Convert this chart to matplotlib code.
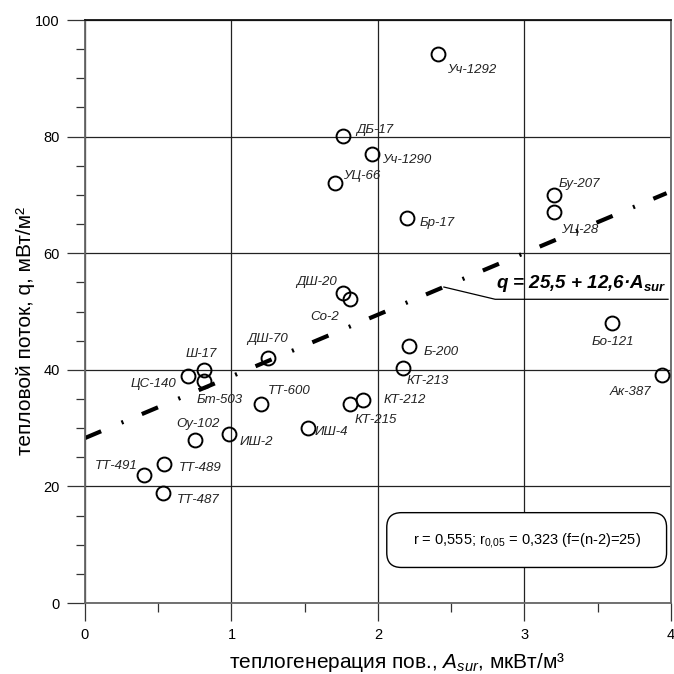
import matplotlib.pyplot as plt
from matplotlib.patches import FancyBboxPatch
import numpy as np

plt.rcParams['font.family'] = ['Liberation Sans', 'DejaVu Sans']
plt.rcParams['mathtext.fontset'] = 'custom'
plt.rcParams['mathtext.rm'] = 'Liberation Sans'
plt.rcParams['mathtext.it'] = 'Liberation Sans:italic'
plt.rcParams['mathtext.bf'] = 'Liberation Sans:bold:italic'

# boreholes: name, A_sur (мкВт/м3), q (мВт/м2)
names = ['Уч-1292', 'ДБ-17', 'Уч-1290', 'УЦ-66', 'Бр-17', 'Бу-207', 'УЦ-28',
         'ДШ-20', 'Со-2', 'Б-200', 'Бо-121', 'Ак-387', 'КТ-213', 'КТ-212',
         'КТ-215', 'ИШ-4', 'ТТ-600', 'ИШ-2', 'Оу-102', 'ДШ-70', 'Ш-17',
         'ЦС-140', 'Бт-503', 'ТТ-489', 'ТТ-491', 'ТТ-487']
a_sur = [2.41, 1.76, 1.96, 1.71, 2.20, 3.20, 3.20,
         1.76, 1.81, 2.21, 3.60, 3.94, 2.17, 1.90,
         1.81, 1.52, 1.20, 0.98, 0.75, 1.25, 0.81,
         0.70, 0.81, 0.54, 0.40, 0.53]
q = [94.2, 80.1, 77.0, 72.0, 66.0, 70.0, 67.1,
     53.2, 52.1, 44.1, 48.0, 39.1, 40.3, 34.8,
     34.1, 30.0, 34.1, 29.0, 28.0, 42.0, 40.0,
     38.9, 38.1, 23.8, 22.0, 18.9]

# regression line as drawn
fit_x = [0.0, 3.97]
fit_y = [28.3, 70.3]

# label placement: (dx px, dy px, ha)
lab_off = {
    'Уч-1292': (9, -16, 'left'), 'ДБ-17': (13, 6, 'left'), 'Уч-1290': (10, -6, 'left'),
    'УЦ-66': (8, 7, 'left'), 'Бр-17': (12, -5, 'left'), 'Бу-207': (5, 11, 'left'),
    'УЦ-28': (7, -18, 'left'), 'ДШ-20': (-6, 11, 'right'), 'Со-2': (-11, -18, 'right'),
    'Б-200': (15, -6, 'left'), 'Бо-121': (0, -19, 'center'), 'Ак-387': (-11, -17, 'right'),
    'КТ-213': (4, -13, 'left'), 'КТ-212': (20, 0, 'left'), 'КТ-215': (4, -16, 'left'),
    'ИШ-4': (7, -4, 'left'), 'ТТ-600': (7, 13, 'left'), 'ИШ-2': (11, -8, 'left'),
    'Оу-102': (3, 16, 'center'), 'ДШ-70': (-1, 19, 'center'), 'Ш-17': (-2, 16, 'center'),
    'ЦС-140': (-11, -8, 'right'), 'Бт-503': (-7, -19, 'left'), 'ТТ-489': (15, -4, 'left'),
    'ТТ-491': (-6, 9, 'right'), 'ТТ-487': (14, -7, 'left'),
}

fig = plt.figure(figsize=(6.74, 6.74), dpi=100)
ax = fig.add_axes([0.1261, 0.1053, 0.8694, 0.865])

ax.set_xlim(0, 4)
ax.set_ylim(0, 100)
ax.set_xticks(np.arange(0, 5, 1))
ax.set_yticks(np.arange(0, 101, 20))
ax.set_xticks(np.arange(0, 4.01, 0.5), minor=True)
ax.set_yticks(np.arange(0, 101, 5), minor=True)
ax.grid(True, which='major', color='#222222', lw=0.9)
ax.set_axisbelow(True)
ax.tick_params(which='major', length=13, width=0.9, color='#333333',
               labelsize=10.5, pad=5)
ax.tick_params(which='minor', length=6.5, width=0.9, color='#333333')
for s in ['left', 'bottom', 'right']:
    ax.spines[s].set_color('#666666')
    ax.spines[s].set_linewidth(1.3)
ax.spines['top'].set_color('#111111')
ax.spines['top'].set_linewidth(1.3)

ax.plot(fit_x, fit_y, color='black', lw=3,
        linestyle=(0, (4.2, 5.3, 0.5, 4.8)), dash_capstyle='butt', zorder=2)

ax.plot(a_sur, q, 'o', ms=10, mfc='none', mec='black', mew=1.4, zorder=3)

for n, x, y in zip(names, a_sur, q):
    dx, dy, ha = lab_off[n]
    ax.annotate(n, (x, y), xytext=(dx, dy), textcoords='offset pixels',
                ha=ha, va='center', fontsize=9.5, style='italic', color='#222222')

# equation with leader line
ax.plot([2.45, 2.80, 3.98], [54.2, 52.1, 52.1], color='black', lw=0.9, zorder=3)
ax.text(3.97, 53.0, r'q = 25,5 + 12,6·$\mathbf{A}_{\mathbf{sur}}$',
        ha='right', va='bottom', fontsize=13.5, fontweight='bold', style='italic')

box = FancyBboxPatch((2.06, 6.1), 1.91, 9.4,
                     boxstyle='round,pad=0,rounding_size=0.1',
                     mutation_aspect=25,
                     fc='white', ec='black', lw=1.0, zorder=4)
ax.add_patch(box)
ax.text(3.015, 10.8, r'r = 0,555; r$_{0{,}05}$ = 0,323 (f=(n-2)=25)',
        ha='center', va='center', fontsize=10.5, zorder=5)

ax.text(0.532, -0.1115, r'теплогенерация пов., $A_{sur}$, мкВт/м³',
        transform=ax.transAxes, ha='center', va='baseline', fontsize=15)
ax.text(-0.101, 0.466, 'тепловой поток, q, мВт/м²', transform=ax.transAxes,
        rotation=90, ha='center', va='center', fontsize=15)

fig.savefig('out.png', dpi=100)
